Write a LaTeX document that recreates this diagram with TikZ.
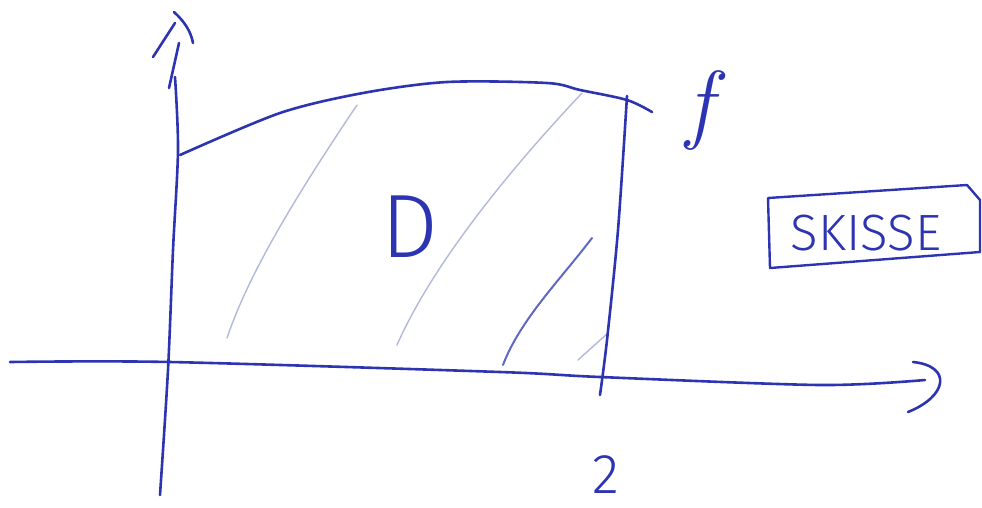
\documentclass[tikz,border=0pt]{standalone}
\usepackage{fontspec}
\newfontfamily\handfont{Fira Sans Light}
\definecolor{pen}{RGB}{45,52,178}
\definecolor{faint}{RGB}{178,184,218}
\definecolor{midpen}{RGB}{95,105,195}
\begin{document}
\begin{tikzpicture}[x=1pt,y=-1pt,
  ink/.style={draw=pen,line width=2.6pt,line cap=round,line join=round},
  thinink/.style={draw=faint,line width=1.4pt,line cap=round},
  midink/.style={draw=midpen,line width=2pt,line cap=round},
  txt/.style={text=pen,inner sep=0pt,anchor=base}]
\useasboundingbox (0,0) rectangle (982,507);
% hatch lines
\draw[thinink] (357,105) .. controls (300,190) and (250,270) .. (227,338);
\draw[thinink] (582,93) .. controls (500,180) and (430,270) .. (397,345);
\draw[midink] (592,238) .. controls (560,280) and (520,320) .. (503,365);
\draw[thinink] (608,333) -- (578,360);
% y axis
\draw[ink] plot[smooth] coordinates {(160,495) (168,370) (173,250) (178,150) (175,77)};
\draw[ink] (179,43) -- (169,88);
\draw[ink] (175,23) -- (153,57);
\draw[ink] (174,12) .. controls (185,22) and (191,32) .. (193,43);
% x axis
\draw[ink] plot[smooth] coordinates {(10,362) (170,362) (500,372) (600,377) (820,385) (925,380)};
\draw[ink] (913,362) .. controls (952,366) and (948,396) .. (908,412);
% curve f
\draw[ink] plot[smooth] coordinates {(180,155) (280,113) (363,93) (447,82) (547,83) (580,90) (627,100) (652,112)};
% x = 2 line
\draw[ink] plot[smooth] coordinates {(627,96) (618,230) (607,340) (600,395)};
% labels
\node[txt,font=\itshape\fontsize{88}{88}\selectfont] (f) at (700,132) {f};
\node[txt,font=\handfont\fontsize{90}{90}\selectfont] (D) at (410,257) {D};
\node[txt,font=\handfont\fontsize{56}{56}\selectfont] (two) at (606,493) {2};
\node[txt,font=\handfont\fontsize{51}{51}\selectfont] (sk) at (866,250) {SKISSE};
\draw[ink,line width=2.4pt] (768,198) -- (967,185) -- (980,200) -- (980,252) -- (770,268) -- cycle;
\end{tikzpicture}
\end{document}
